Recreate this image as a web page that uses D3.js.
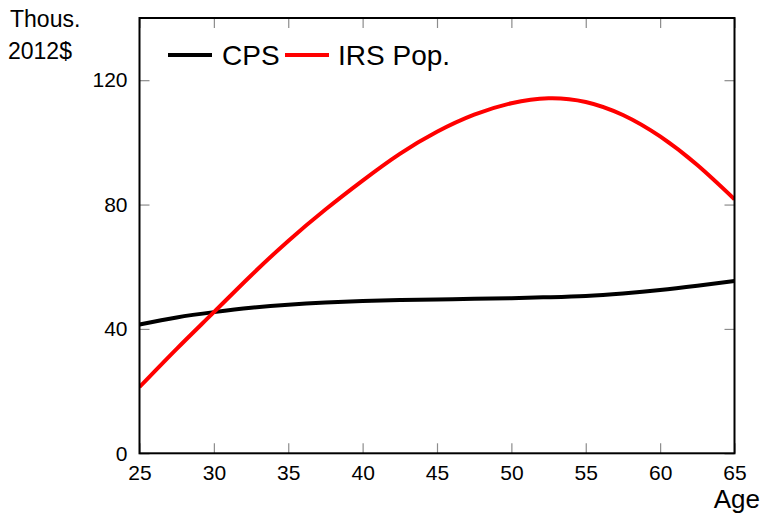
<!DOCTYPE html>
<html>
<head>
<meta charset="utf-8">
<script src="https://cdn.jsdelivr.net/npm/d3@7"></script>
<style>
  html, body { margin: 0; padding: 0; background: #fff; }
  svg { display: block; }
  text { font-family: "Liberation Sans", Arial, sans-serif; fill: #000; }
</style>
</head>
<body>
<svg id="chart" width="760" height="513"></svg>
<script>
// Average income by age, thousands of 2012 dollars
const ages = [25, 27.5, 30, 32.5, 35, 37.5, 40, 42.5, 45, 47.5, 50, 52.5, 55, 57.5, 60, 62.5, 65];
const cpsIncome = [41.4, 43.7, 45.4, 46.8, 47.8, 48.5, 49.0, 49.3, 49.5, 49.7, 49.9, 50.2, 50.6, 51.4, 52.5, 53.9, 55.4];
const irsIncome = [21.3, 33.6, 45.4, 57.2, 68.3, 78.4, 87.7, 96.3, 103.4, 108.9, 112.6, 114.2, 113.0, 108.8, 101.9, 92.7, 81.7];
const xTicks = [25, 30, 35, 40, 45, 50, 55, 60, 65];
const yTicks = [0, 40, 80, 120];
const seriesNames = ["CPS", "IRS Pop."];
const seriesColors = ["#000000", "#ff0000"];

const svg = d3.select("#chart");
const plot = { left: 139.5, right: 734.5, top: 18, bottom: 453.3 };

const x = d3.scaleLinear().domain([25, 65]).range([plot.left, plot.right]);
const y = d3.scaleLinear().domain([0, 140]).range([plot.bottom, plot.top]);

const tickLen = 10;
const tickColor = "#8c8c8c";

// Inward ticks on all four sides
const axes = [
  { gen: d3.axisBottom(x), pos: `translate(0,${plot.bottom})`, labels: true },
  { gen: d3.axisTop(x),    pos: `translate(0,${plot.top})`,    labels: false },
  { gen: d3.axisLeft(y),   pos: `translate(${plot.left},0)`,   labels: true },
  { gen: d3.axisRight(y),  pos: `translate(${plot.right},0)`,  labels: false }
];
axes.forEach((a, i) => {
  const isX = i < 2;
  a.gen.tickValues(isX ? xTicks : yTicks)
       .tickSizeInner(-tickLen).tickSizeOuter(0)
       .tickPadding(12)
       .tickFormat(a.labels ? d3.format("d") : () => "");
  const g = svg.append("g").attr("transform", a.pos).call(a.gen);
  g.select(".domain").remove();
  g.selectAll(".tick line").attr("stroke", tickColor).attr("stroke-width", 1.2);
  g.selectAll(".tick text")
    .style("font-size", "21px")
    .style("font-family", "'Liberation Sans', Arial, sans-serif")
    .attr("fill", "#000");
});

// Series curves
const line = d3.line()
  .x((d, i) => x(ages[i]))
  .y(d => y(d))
  .curve(d3.curveNatural);

svg.append("clipPath").attr("id", "plot-clip")
  .append("rect")
  .attr("x", plot.left).attr("y", plot.top)
  .attr("width", plot.right - plot.left).attr("height", plot.bottom - plot.top);

[cpsIncome, irsIncome].forEach((vals, k) => {
  svg.append("path")
    .datum(vals)
    .attr("clip-path", "url(#plot-clip)")
    .attr("fill", "none")
    .attr("stroke", seriesColors[k])
    .attr("stroke-width", 4)
    .attr("stroke-linejoin", "round")
    .attr("d", line);
});

// Frame
svg.append("rect")
  .attr("x", plot.left).attr("y", plot.top)
  .attr("width", plot.right - plot.left).attr("height", plot.bottom - plot.top)
  .attr("fill", "none").attr("stroke", "#000").attr("stroke-width", 2);

// Legend
const legend = svg.append("g").attr("transform", "translate(168,55)");
const legendItems = [
  { x0: 0, tx: 54 },
  { x0: 117, tx: 170 }
];
legendItems.forEach((it, k) => {
  legend.append("line")
    .attr("x1", it.x0).attr("x2", it.x0 + 44)
    .attr("y1", 0).attr("y2", 0)
    .attr("stroke", seriesColors[k]).attr("stroke-width", 4);
  legend.append("text")
    .attr("x", it.tx).attr("y", 10)
    .style("font-size", "28px")
    .text(seriesNames[k]);
});

// Axis titles
svg.append("text").attr("x", 10).attr("y", 27).style("font-size", "23px").text("Thous.");
svg.append("text").attr("x", 8).attr("y", 59).style("font-size", "23px").text("2012$");
svg.append("text").attr("x", 760).attr("y", 508).attr("text-anchor", "end").style("font-size", "26px").text("Age");
</script>
</body>
</html>
